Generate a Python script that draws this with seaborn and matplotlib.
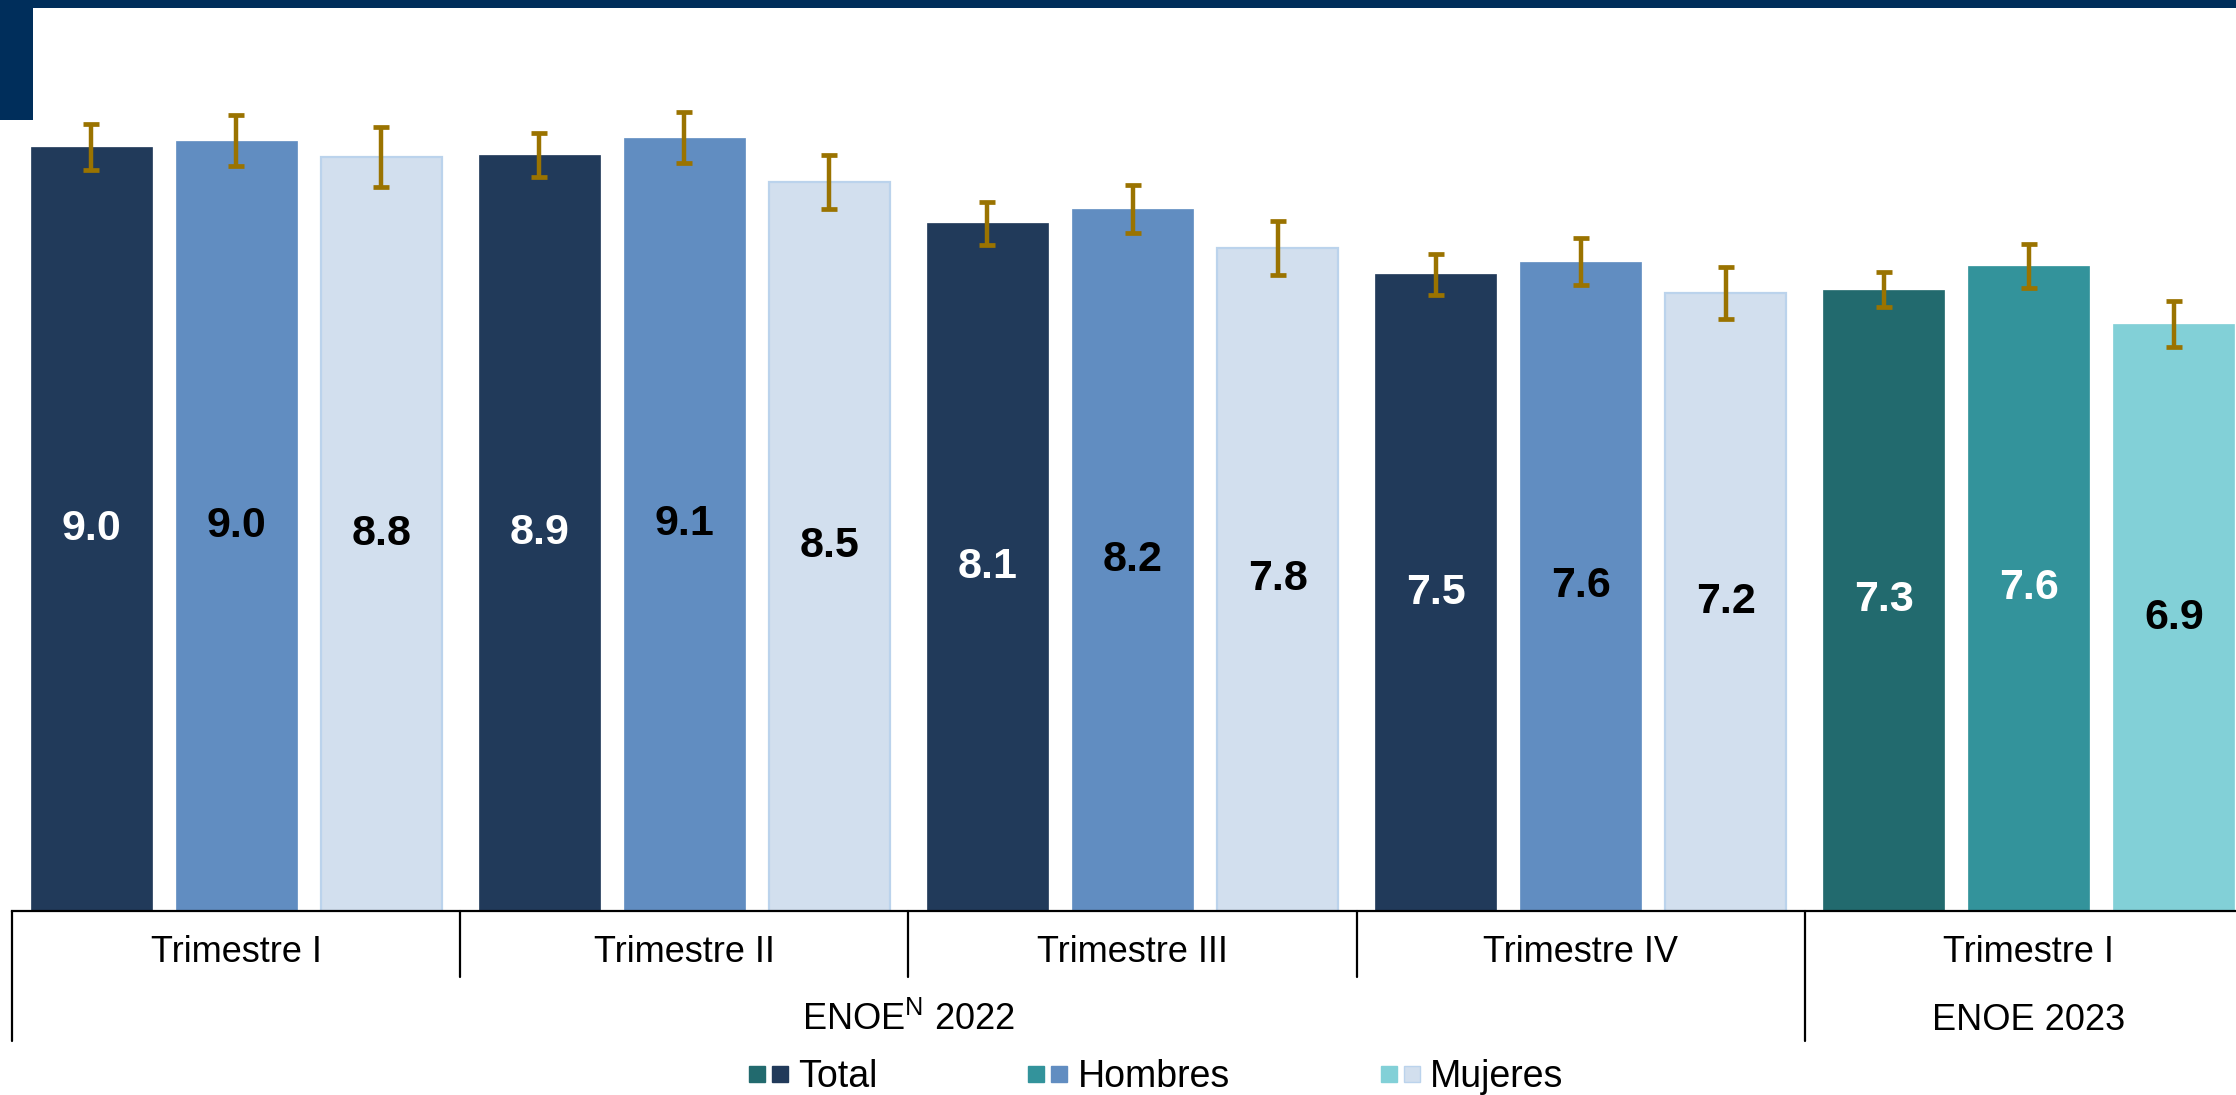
import matplotlib
matplotlib.use("Agg")
import matplotlib.pyplot as plt
import matplotlib.transforms as mtransforms
from matplotlib import font_manager
from matplotlib.patches import Rectangle
from matplotlib.lines import Line2D
from matplotlib.legend_handler import HandlerTuple
import pandas as pd
import seaborn as sns

# ---------------- data ----------------
periods = ["2022-T1", "2022-T2", "2022-T3", "2022-T4", "2023-T1"]
period_labels = ["Trimestre I", "Trimestre II", "Trimestre III", "Trimestre IV", "Trimestre I"]
survey_labels = ["ENOE$^{\\mathrm{N}}$ 2022", "ENOE 2023"]
series = ["Total", "Hombres", "Mujeres"]

total = [9.00, 8.90, 8.10, 7.50, 7.32]
hombres = [9.07, 9.11, 8.27, 7.65, 7.60]
mujeres = [8.88, 8.59, 7.81, 7.28, 6.91]

total_labels = ["9.0", "8.9", "8.1", "7.5", "7.3"]
hombres_labels = ["9.0", "9.1", "8.2", "7.6", "7.6"]
mujeres_labels = ["8.8", "8.5", "7.8", "7.2", "6.9"]

err_total = [0.27, 0.26, 0.25, 0.24, 0.21]
err_hombres = [0.30, 0.30, 0.28, 0.28, 0.26]
err_mujeres = [0.35, 0.32, 0.32, 0.31, 0.27]

# ---------------- style ----------------
colors_2022 = ["#213A5A", "#618DC1", "#D2DFEE"]
colors_2023 = ["#226A6E", "#33939B", "#82D0D7"]
label_colors_2022 = ["white", "black", "black"]
label_colors_2023 = ["white", "white", "black"]
err_color = "#9A7300"
band_color = "#002E5B"

sns.set_theme(style="white")
plt.rcParams["font.family"] = ["Liberation Sans", "DejaVu Sans"]
plt.rcParams["text.color"] = "black"
plt.rcParams["axes.labelcolor"] = "black"
plt.rcParams["xtick.color"] = "black"
plt.rcParams["xtick.labelcolor"] = "black"
plt.rcParams["mathtext.fontset"] = "custom"
plt.rcParams["mathtext.rm"] = "Liberation Sans"
plt.rcParams["mathtext.it"] = "Liberation Sans:italic"
plt.rcParams["mathtext.bf"] = "Liberation Sans:bold"

available = {f.name for f in font_manager.fontManager.ttflist}
if "Liberation Sans Narrow" in available:
    legend_font = dict(family="Liberation Sans Narrow", size=33)
else:
    legend_font = dict(family="Liberation Sans", size=27)
fs_px = legend_font["size"] * 100 / 72

W, H = 2236, 1095
fig = plt.figure(figsize=(W / 100, H / 100), dpi=100)
base_px = 911
ax = fig.add_axes([12 / W, (H - base_px) / H, (W - 12) / W, base_px / H])

df = pd.DataFrame({
    "periodo": periods * 3,
    "serie": [s for s in series for _ in periods],
    "valor": total + hombres + mujeres,
})

sns.barplot(data=df, x="periodo", y="valor", hue="serie", order=periods,
            hue_order=series, palette=colors_2022, saturation=1,
            width=0.971, gap=0.166, errorbar=None, legend=False, ax=ax)

errs = [err_total, err_hombres, err_mujeres]
labels = [total_labels, hombres_labels, mujeres_labels]
bar_containers = list(ax.containers)
for i, cont in enumerate(bar_containers):
    for j, p in enumerate(cont.patches):
        fc = colors_2023[i] if j == 4 else colors_2022[i]
        p.set_facecolor(fc)
        if i == 2 and j < 4:
            p.set_edgecolor("#BBD3EC")
            p.set_linewidth(1.6)
        else:
            p.set_edgecolor(fc)
            p.set_linewidth(0.5)
    xs = [p.get_x() + p.get_width() / 2 for p in cont.patches]
    ys = [p.get_height() for p in cont.patches]
    ax.errorbar(xs, ys, yerr=errs[i], fmt="none", ecolor=err_color,
                elinewidth=3.2, capsize=6, capthick=3.4, zorder=4)
    texts = ax.bar_label(cont, labels=labels[i], label_type="center",
                         fontsize=31, fontweight="bold")
    for j, t in enumerate(texts):
        t.set_color(label_colors_2023[i] if j == 4 else label_colors_2022[i])

ax.set_xlim(-0.5, -0.5 + (W - 12) / 448.2)
ax.set_ylim(0, base_px / 84.9)
ax.set_xlabel("")
ax.set_ylabel("")
ax.set_yticks([])
ax.set_xticks(range(len(periods)))
ax.set_xticklabels(period_labels, fontsize=26, color="black")
ax.tick_params(axis="x", length=0, pad=30)
for lbl in ax.get_xticklabels():
    lbl.set_verticalalignment("center")
for s in ["left", "top", "right"]:
    ax.spines[s].set_visible(False)
ax.spines["bottom"].set_color("black")
ax.spines["bottom"].set_linewidth(1.6)

# hierarchical axis separators
trans = mtransforms.blended_transform_factory(ax.transData, ax.transAxes)
short_y = -(977 - base_px) / base_px
long_y = -(1041 - base_px) / base_px
for xb in [-0.5, 0.5, 1.5, 2.5, 3.5]:
    yb = long_y if xb in (-0.5, 3.5) else short_y
    ax.add_line(Line2D([xb, xb], [0, yb], transform=trans, color="black",
                       lw=1.6, clip_on=False))
enoe_y = -(1020 - base_px) / base_px
ax.text(1.5, enoe_y, survey_labels[0], transform=trans, ha="center",
        va="center", fontsize=26, color="black")
ax.text(4.0, enoe_y, survey_labels[1], transform=trans, ha="center",
        va="center", fontsize=26, color="black")

# legend
handles = []
for i in range(3):
    handles.append((
        Line2D([], [], marker="s", ls="none", markersize=12,
               markerfacecolor=colors_2023[i], markeredgecolor=colors_2023[i]),
        Line2D([], [], marker="s", ls="none", markersize=12,
               markerfacecolor=colors_2022[i],
               markeredgecolor="#BBD3EC" if i == 2 else colors_2022[i]),
    ))
leg = fig.legend(handles, series, loc="center", ncol=3,
                 bbox_to_anchor=(1156 / W, 1 - 1077 / H),
                 handler_map={tuple: HandlerTuple(ndivide=None, pad=6 / fs_px)},
                 frameon=False, prop=legend_font, handlelength=40 / fs_px,
                 handletextpad=10 / fs_px, columnspacing=150 / fs_px,
                 borderpad=0, labelcolor="black")

# top decorations
fig.add_artist(Rectangle((0, 1 - 8 / H), 1, 8 / H, transform=fig.transFigure,
                         facecolor=band_color, edgecolor="none", zorder=10))
fig.add_artist(Rectangle((0, 1 - 120 / H), 33 / W, 120 / H,
                         transform=fig.transFigure, facecolor=band_color,
                         edgecolor="none", zorder=10))

fig.savefig("out.png", dpi=100)
